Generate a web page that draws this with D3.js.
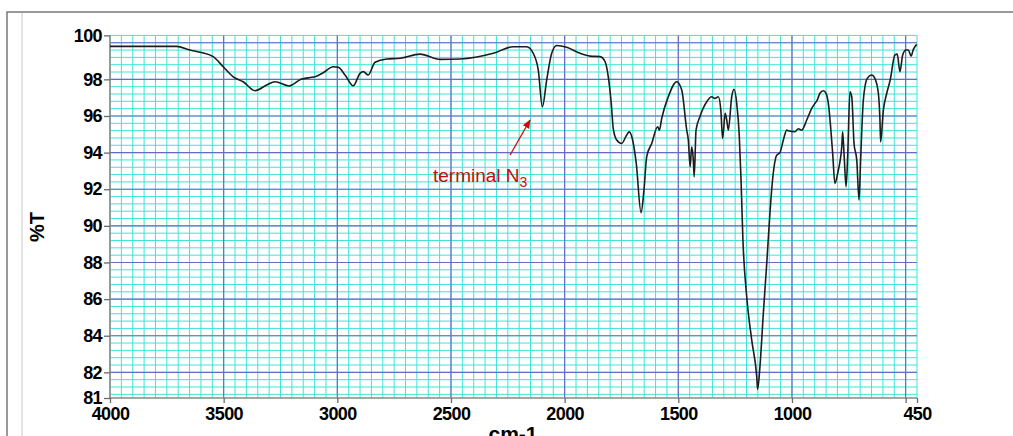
<!DOCTYPE html>
<html>
<head>
<meta charset="utf-8">
<script src="https://cdn.jsdelivr.net/npm/d3@7"></script>
<style>
  html, body { margin: 0; padding: 0; background: #fff; }
  svg { display: block; }
</style>
</head>
<body>
<svg id="chart" width="1013" height="436"></svg>
<script>
// IR spectrum: wavenumber (cm-1) vs. transmittance (%T)
const wavenumber = [
  4000, 3900, 3800, 3707, 3648, 3604, 3546, 3502, 3458, 3414, 3362, 3311, 3274, 3212,
  3160, 3120, 3098, 3062, 3018, 2996, 2966, 2930, 2900, 2886, 2864, 2834, 2783, 2724,
  2636, 2548, 2460, 2314, 2226, 2167, 2138, 2116, 2098, 2079, 2057, 2035, 1991, 1932,
  1888, 1844, 1822, 1808, 1795, 1786, 1771, 1749, 1727, 1716, 1701, 1685, 1664, 1651,
  1639, 1617, 1591, 1583, 1573, 1544, 1507, 1485, 1463, 1456, 1448, 1441, 1434, 1430,
  1422, 1405, 1375, 1353, 1339, 1324, 1313, 1305, 1294, 1287, 1280, 1265, 1255, 1243,
  1232, 1224, 1216, 1199, 1177, 1155, 1151, 1141, 1126, 1111, 1097, 1087, 1067, 1053,
  1038, 1023, 1016, 987, 972, 957, 935, 913, 899, 889, 877, 862, 850, 840,
  830, 821, 811, 796, 789, 781, 777, 771, 762, 755, 745, 737, 727, 715,
  705, 698, 686, 669, 649, 635, 620, 613, 610, 598, 583, 568, 547, 537,
  525, 513, 498, 488, 476, 466, 451
];
const transmittance = [
  99.8, 99.8, 99.8, 99.8, 99.6, 99.48, 99.24, 98.69, 98.14, 97.87, 97.38, 97.69, 97.87, 97.64,
  98.0, 98.1, 98.14, 98.36, 98.69, 98.66, 98.24, 97.65, 98.33, 98.42, 98.24, 98.93, 99.11, 99.15,
  99.38, 99.09, 99.11, 99.42, 99.78, 99.78, 99.42, 98.5, 96.5, 97.96, 99.42, 99.85, 99.75, 99.42,
  99.27, 99.24, 98.96, 98.14, 96.69, 95.3, 94.69, 94.5, 94.96, 95.13, 94.69, 93.41, 90.72, 91.96,
  93.78, 94.5, 95.41, 95.23, 95.87, 97.05, 97.87, 97.42, 95.23, 94.69, 93.23, 94.32, 93.59, 92.68,
  95.23, 95.96, 96.78, 97.05, 96.96, 97.05, 96.32, 94.77, 96.14, 95.78, 95.23, 97.05, 97.46, 96.69,
  94.96, 92.5, 89.3, 86.13, 83.76, 81.76, 81.07, 82.3, 85.22, 87.95, 90.68, 92.3, 93.86, 94.0,
  94.69, 95.23, 95.19, 95.14, 95.3, 95.23, 95.78, 96.41, 96.69, 96.87, 97.24, 97.38, 97.24, 96.69,
  95.41, 93.95, 92.32, 93.05, 93.5, 94.32, 95.14, 93.95, 92.14, 93.78, 97.32, 97.05, 94.5, 93.59,
  91.41, 93.59, 96.87, 98.05, 98.24, 98.05, 97.24, 95.78, 94.58, 96.32, 97.24, 97.96, 99.33, 99.38,
  98.42, 99.33, 99.6, 99.6, 99.27, 99.64, 99.91
];

// Axis ticks
const xTicks = [4000, 3500, 3000, 2500, 2000, 1500, 1000, 500, 450];
const xLabelled = [4000, 3500, 3000, 2500, 2000, 1500, 1000, 450];
const yTicks = [100.4, 98, 96, 94, 92, 90, 88, 86, 84, 82, 80.6];

// Annotation (wavenumber / %T positions)
const noteText = "terminal N";
const noteSub = "3";
const noteAt = [2579, 92.39];
const arrowFrom = [2240, 93.87];
const arrowTo = [2152, 95.78];

const svg = d3.select("#chart");

const x = d3.scaleLinear().domain([4000, 450]).range([110, 917]);
const y = d3.scaleLinear().domain([80.6, 100.4]).range([398, 35.4]);

// outer frame
svg.append("rect")
  .attr("x", 7).attr("y", 12).attr("width", 1030).attr("height", 450)
  .attr("fill", "none").attr("stroke", "#808080").attr("stroke-width", 1.6);
svg.append("line")
  .attr("x1", 22).attr("x2", 22).attr("y1", 13).attr("y2", 436)
  .attr("stroke", "#c8c8c8").attr("stroke-width", 1);

const grid = svg.append("g");
const minorCyan = "#3fe4d8";
const majorBlue = "#6a6ac6";

// minor vertical lines every 50 cm-1
const vMinor = d3.range(450, 4001, 50);
grid.selectAll("line.vmin").data(vMinor).join("line")
  .attr("x1", d => x(d)).attr("x2", d => x(d))
  .attr("y1", y(100.4)).attr("y2", y(80.6))
  .attr("stroke", minorCyan).attr("stroke-width", 1);

// minor horizontal lines every 0.4 %T
const hMinor = d3.range(0, 50).map(i => +(80.8 + 0.4 * i).toFixed(1));
grid.selectAll("line.hmin").data(hMinor).join("line")
  .attr("x1", x(4000)).attr("x2", x(450))
  .attr("y1", d => y(d)).attr("y2", d => y(d))
  .attr("stroke", minorCyan).attr("stroke-width", 1);

// major lines
const vMajor = d3.range(500, 4000, 500);
grid.selectAll("line.vmaj").data(vMajor).join("line")
  .attr("x1", d => x(d)).attr("x2", d => x(d))
  .attr("y1", y(100.4)).attr("y2", y(80.6))
  .attr("stroke", majorBlue).attr("stroke-width", 1.2);
const hMajor = d3.range(82, 101, 2);
grid.selectAll("line.hmaj").data(hMajor).join("line")
  .attr("x1", x(4000)).attr("x2", x(450))
  .attr("y1", d => y(d)).attr("y2", d => y(d))
  .attr("stroke", majorBlue).attr("stroke-width", 1.2);

// axes
const fmtY = d3.format(".0f");
const yAxis = d3.axisLeft(y).tickValues(yTicks).tickSize(6).tickPadding(2).tickFormat(fmtY);
const xAxis = d3.axisBottom(x).tickValues(xTicks).tickSize(5).tickPadding(4)
  .tickFormat(d => xLabelled.includes(d) ? d : "");

function styleAxis(g) {
  g.select(".domain").attr("stroke", "#8a8a8a").attr("stroke-width", 1.6);
  g.selectAll(".tick line").attr("stroke", "#6a6a6a").attr("stroke-width", 1.3);
  g.selectAll(".tick text")
    .attr("fill", "#000")
    .style("font-family", "'Liberation Sans', Arial, sans-serif")
    .style("font-weight", "bold")
    .style("font-size", "18px")
    .style("letter-spacing", "-0.6px");
}
svg.append("g").attr("transform", `translate(${x(4000)},0)`).call(yAxis).call(styleAxis)
  .call(g => g.select(".domain").attr("d", `M0,${y(100.4)}V${y(80.6)}`));
svg.append("g").attr("transform", `translate(0,${y(80.6)})`).call(xAxis).call(styleAxis)
  .call(g => g.select(".domain").attr("d", `M${x(4000)},0H${x(450)}`));

// spectrum trace
const pts = wavenumber.map((w, i) => [w, transmittance[i]]);
const line = d3.line()
  .x(d => x(d[0])).y(d => y(d[1]))
  .curve(d3.curveMonotoneX);
svg.append("path")
  .datum(pts)
  .attr("d", line)
  .attr("fill", "none")
  .attr("stroke", "#1c1c1c")
  .attr("stroke-width", 1.6)
  .attr("stroke-linejoin", "round");

// annotation
const red = "#cc0a0a";
svg.append("defs").append("marker")
  .attr("id", "head").attr("viewBox", "0 0 10 10")
  .attr("refX", 9).attr("refY", 5)
  .attr("markerWidth", 7).attr("markerHeight", 7)
  .attr("orient", "auto")
  .append("path").attr("d", "M0,1 L10,5 L0,9 Z").attr("fill", red);
svg.append("line")
  .attr("x1", x(arrowFrom[0])).attr("y1", y(arrowFrom[1]))
  .attr("x2", x(arrowTo[0])).attr("y2", y(arrowTo[1]))
  .attr("stroke", red).attr("stroke-width", 1.3)
  .attr("marker-end", "url(#head)");
const note = svg.append("text")
  .attr("x", x(noteAt[0])).attr("y", y(noteAt[1]))
  .attr("fill", red)
  .style("font-family", "'Liberation Sans', Arial, sans-serif")
  .style("font-size", "19px")
  .text(noteText);
note.append("tspan").attr("dy", 5).style("font-size", "14px").text(noteSub);

// axis titles
svg.append("text")
  .attr("transform", "translate(44,227) rotate(-90)")
  .attr("text-anchor", "middle")
  .style("font-family", "'Liberation Sans', Arial, sans-serif")
  .style("font-weight", "bold").style("font-size", "20px")
  .text("%T");
svg.append("text")
  .attr("x", 513).attr("y", 441)
  .attr("text-anchor", "middle")
  .style("font-family", "'Liberation Sans', Arial, sans-serif")
  .style("font-weight", "bold").style("font-size", "21px")
  .text("cm-1");
</script>
</body>
</html>
